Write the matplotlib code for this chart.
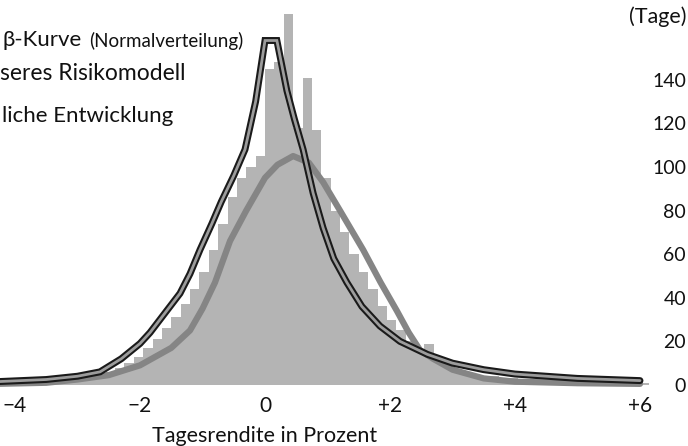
import numpy as np
import matplotlib
matplotlib.use("Agg")
import matplotlib.pyplot as plt

plt.rcParams['font.family'] = ['Lato', 'DejaVu Sans']

# histogram: left edge of each bin (Prozent) and number of days
bin_width = 0.15
bin_left = np.round(np.arange(-4.2, 6.2, bin_width), 2)
days = [1, 2, 1, 2, 1, 3, 2, 3, 4, 3,
        5, 6, 8, 10, 13, 17, 21, 26, 31, 37,
        44, 52, 62, 74, 86, 95, 100, 105, 145, 148,
        170, 118, 141, 117, 95, 80, 70, 60, 52, 44,
        36, 30, 25, 20, 16, 19, 10, 8, 6, 5,
        4, 3, 4, 2, 3, 2, 2, 1, 2, 1,
        1, 2, 1, 1, 0, 1, 1, 0, 1, 0]

# normal distribution curve
normal_x = [-4.3, -3.5, -3.0, -2.5, -2.0, -1.5, -1.2, -1.0, -0.8, -0.56, -0.3, 0.0, 0.2, 0.45,
            0.7, 0.93, 1.2, 1.57, 1.85, 2.11, 2.3, 2.48, 2.69, 3.0, 3.5, 4.0, 5.0, 6.0]
normal_y = [0.5, 1, 2.5, 4.5, 9, 17, 25, 35, 47, 66, 80, 95, 101, 105,
            102, 93, 80, 62, 47, 34, 24, 16, 12, 7, 3, 1.5, 0.8, 0.5]

# risk model curve
risk_x = [-4.3, -3.5, -3.0, -2.64, -2.3, -2.0, -1.84, -1.6, -1.36, -1.2, -1.04, -0.85, -0.7, -0.5,
          -0.32, -0.15, 0.0, 0.19, 0.35, 0.47, 0.61, 0.77, 0.93, 1.1, 1.31, 1.55, 1.84, 2.16,
          2.6, 3.0, 3.5, 4.0, 5.0, 6.0]
risk_y = [1.5, 2.5, 4, 6, 12, 19, 24, 33, 42, 51, 62, 74, 84, 96,
          108, 130, 158, 158, 135, 122, 108, 88, 72, 58, 47, 36, 27, 20,
          14, 10, 7, 5, 3, 2]

x_ticks = [-4, -2, 0, 2, 4, 6]
x_tick_labels = ['−4', '−2', '0', '+2', '+4', '+6']
y_ticks = [0, 20, 40, 60, 80, 100, 120, 140]

W, H = 688, 446
fig = plt.figure(figsize=(W / 100, H / 100), dpi=100)
ax = fig.add_axes([0, 1 - 388 / H, 650 / W, 385 / H])

ax.bar(bin_left, days, width=bin_width, align='edge', color='#b4b4b4', linewidth=0)
ax.plot(normal_x, normal_y, color='#858585', lw=4.5, solid_capstyle='round', zorder=3)
ax.plot(risk_x, risk_y, color='#1a1a1a', lw=5, solid_capstyle='round', solid_joinstyle='miter', zorder=4)
ax.plot(risk_x, risk_y, color='#9c9c9c', lw=2, solid_capstyle='round', solid_joinstyle='miter', zorder=5)

ax.set_xlim(-4.24, 6.16)
ax.set_ylim(-1.4, 175.2)
for s in ax.spines.values():
    s.set_visible(False)

ax.set_xticks(x_ticks)
ax.set_xticklabels(x_tick_labels, fontsize=15)
ax.yaxis.tick_right()
ax.set_yticks(y_ticks)
ax.set_yticklabels([str(v) for v in y_ticks], fontsize=14, ha='right')
ax.tick_params(axis='both', length=0, colors='#111111')
ax.tick_params(axis='y', pad=26)
ax.tick_params(axis='x', pad=6)

fig.text(265 / W, 1 - 436 / H, 'Tagesrendite in Prozent', fontsize=15.5, ha='center', va='center', color='#111111')
fig.text(686 / W, 1 - 17 / H, '(Tage)', fontsize=15.5, ha='right', va='center', color='#111111')

# legend texts (cut off at the left edge)
fig.text(3 / W, 1 - 40 / H, 'β-Kurve', fontsize=16, ha='left', va='center', color='#111111')
fig.text(89 / W, 1 - 41 / H, '(Normalverteilung)', fontsize=13.5, ha='left', va='center', color='#111111')
fig.text(0 / W, 1 - 73 / H, 'seres Risikomodell', fontsize=16.5, ha='left', va='center', color='#111111')
fig.text(2 / W, 1 - 116 / H, 'liche Entwicklung', fontsize=16, ha='left', va='center', color='#111111')

fig.savefig('out.png', dpi=100, facecolor='white')
